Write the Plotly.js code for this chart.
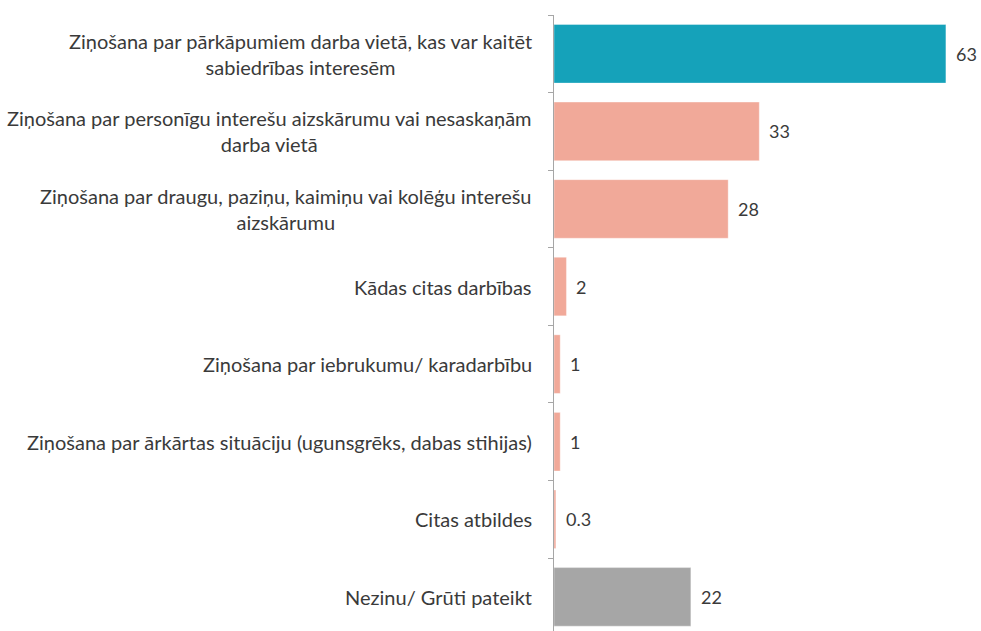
<!DOCTYPE html>
<html>
<head>
<meta charset="utf-8">
<script src="https://cdn.plot.ly/plotly-3.0.1.min.js"></script>
<style>html,body{margin:0;padding:0;background:#fff;}#chart{width:981px;height:631px;}</style>
</head>
<body>
<div id="chart"></div>
<script>
const categories = [
  "Ziņošana par pārkāpumiem darba vietā, kas var kaitēt<br>sabiedrības interesēm",
  "Ziņošana par personīgu interešu aizskārumu vai nesaskaņām<br>darba vietā",
  "Ziņošana par draugu, paziņu, kaimiņu vai kolēģu interešu<br>aizskārumu",
  "Kādas citas darbības",
  "Ziņošana par iebrukumu/ karadarbību",
  "Ziņošana par ārkārtas situāciju (ugunsgrēks, dabas stihijas)",
  "Citas atbildes",
  "Nezinu/ Grūti pateikt"
];
const values = [63, 33, 28, 2, 1, 1, 0.3, 22];
const valueLabels = ["63", "33", "28", "2", "1", "1", "0.3", "22"];
const barColors = ["#15A2BA", "#F1A999", "#F1A999", "#F1A999", "#F1A999", "#F1A999", "#F1A999", "#A6A6A6"];

const FONT = "Lato, sans-serif";
const TXT = "#3A3A3A";

const annotations = [];
categories.forEach((c, i) => {
  annotations.push({
    xref: "paper", yref: "y", x: 0, y: c, text: c,
    xanchor: "right", yanchor: "middle", align: "center",
    xshift: -20, showarrow: false,
    font: {family: FONT, size: 20, color: TXT}
  });
  annotations.push({
    xref: "x", yref: "y", x: values[i], y: c, text: valueLabels[i],
    xanchor: "left", yanchor: "middle", xshift: 8, showarrow: false,
    font: {family: FONT, size: 18, color: TXT}
  });
});

const trace = {
  type: "bar", orientation: "h",
  x: values, y: categories,
  marker: {color: barColors, line: {color: "rgba(255,255,255,0.35)", width: 1}},
  hoverinfo: "none"
};

const layout = {
  width: 981, height: 631,
  margin: {l: 554, r: 4, t: 15, b: 0, pad: 0},
  paper_bgcolor: "#fff", plot_bgcolor: "#fff",
  showlegend: false,
  bargap: 0.245,
  xaxis: {range: [0, 68], visible: false, fixedrange: true},
  yaxis: {
    type: "category",
    categoryorder: "array", categoryarray: categories,
    range: [7.44, -0.5],
    showticklabels: false,
    showline: true, linecolor: "#A6A6A6", linewidth: 1,
    ticks: "outside", tickson: "boundaries", ticklen: 5, tickcolor: "#A6A6A6",
    showgrid: false, zeroline: false, fixedrange: true
  },
  annotations: annotations
};

Plotly.newPlot("chart", [trace], layout, {displayModeBar: false, staticPlot: true});
</script>
</body>
</html>
